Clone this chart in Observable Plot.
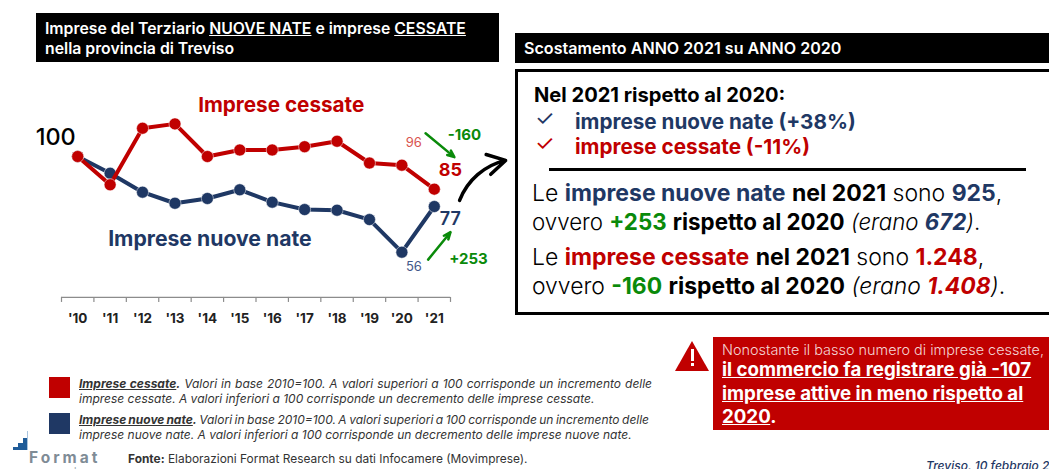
<!DOCTYPE html>
<html><head><meta charset="utf-8">
<script src="https://cdn.jsdelivr.net/npm/d3@7"></script>
<script src="https://cdn.jsdelivr.net/npm/@observablehq/plot@0.6"></script>
<style>
html,body{margin:0;padding:0;background:#fff}
#page{position:relative;width:1049px;height:469px;overflow:hidden;font-family:Inter,sans-serif;color:#000}
#page svg{position:absolute;left:0;top:0}
.t{position:absolute;white-space:nowrap}
.b{font-weight:700}.n{color:#1f3864}.r{color:#c00000}.g{color:#0a8a0a}
.box{position:absolute;box-sizing:border-box}
</style></head><body><div id="page"></div>
<script>
const years=[2010,2011,2012,2013,2014,2015,2016,2017,2018,2019,2020,2021];
const yearLabels=["'10","'11","'12","'13","'14","'15","'16","'17","'18","'19","'20","'21"];
const cessate=[100,87,113,115,100,103,103,104.5,107,97,96,85];
const nuove=[100,92.3,83.6,78.5,80.7,84.7,79,75.6,75.3,71,56,77];
const RED="#c00000",NAVY="#1f3864",GREEN="#0a8a0a";
const ticks=d3.range(2009.5,2022,1);
const axisValue=35.2;
const rows=s=>years.map((y,i)=>({y,v:s[i]}));
const chart=Plot.plot({
  width:1049,height:469,margin:0,
  style:{background:"transparent",fontFamily:"Inter,sans-serif",overflow:"visible"},
  x:{type:"linear",domain:[2009.5,2021.5],range:[61,450],axis:null},
  y:{type:"linear",domain:[56,100],range:[251.7,156],axis:null},
  marks:[
    Plot.ruleY([axisValue],{x1:2009.5,x2:2021.5,stroke:"#8c8c8c",strokeWidth:1.2}),
    Plot.ruleX(ticks,{y1:axisValue,y2:axisValue-2.3,stroke:"#8c8c8c",strokeWidth:1.2}),
    Plot.text(years,{x:d=>d,y:axisValue,dy:21,text:(d,i)=>yearLabels[i],fontSize:13.5,fontWeight:700,fill:"#222"}),
    Plot.line(rows(nuove),{x:"y",y:"v",stroke:NAVY,strokeWidth:4}),
    Plot.dot(rows(nuove),{x:"y",y:"v",r:6,fill:NAVY,stroke:"#fff",strokeOpacity:.5,strokeWidth:1}),
    Plot.line(rows(cessate),{x:"y",y:"v",stroke:RED,strokeWidth:4}),
    Plot.dot(rows(cessate),{x:"y",y:"v",r:6,fill:RED,stroke:"#fff",strokeOpacity:.5,strokeWidth:1}),
    Plot.text([100],{x:2010,y:d=>d,dx:-22,dy:-19,text:d=>String(d),fontSize:23.5,fontWeight:500,fill:"#000"}),
    Plot.text([96],{x:2020,y:d=>d,dx:12,dy:-22,text:d=>String(d),fontSize:13,fill:"#d9534f"}),
    Plot.text([56],{x:2020,y:d=>d,dx:12,dy:15,text:d=>String(d),fontSize:13,fill:"#44598a"}),
    Plot.text([85],{x:2021,y:d=>d,dx:16,dy:-19,text:d=>String(d),fontSize:18,fontWeight:700,fill:RED}),
    Plot.text([77],{x:2021,y:d=>d,dx:16,dy:13,text:d=>String(d),fontSize:18,fontWeight:600,fill:NAVY}),
    Plot.text(["Imprese cessate"],{x:2016,y:115,dx:9,dy:-19,text:d=>d,fontSize:20.7,fontWeight:700,fill:RED}),
    Plot.text(["Imprese nuove nate"],{x:2014,y:62,dx:2.5,text:d=>d,fontSize:21.2,fontWeight:700,fill:NAVY}),
    Plot.text(["-160"],{x:2021.5,y:110,dx:14,text:d=>d,fontSize:15,fontWeight:700,fill:GREEN}),
    Plot.text(["+253"],{x:2021.5,y:53,dx:18,text:d=>d,fontSize:15,fontWeight:700,fill:GREEN}),
    Plot.arrow([{x1:2020.73,y1:110.7,x2:2021.62,y2:99.7}],{x1:"x1",y1:"y1",x2:"x2",y2:"y2",stroke:GREEN,strokeWidth:2.5,headLength:4.5,headAngle:45}),
    Plot.arrow([{x1:2020.81,y1:52.6,x2:2021.5,y2:65.2}],{x1:"x1",y1:"y1",x2:"x2",y2:"y2",stroke:GREEN,strokeWidth:2.5,headLength:4.5,headAngle:45}),
    Plot.arrow([{x1:2021.78,y1:79.8,x2:2023.2,y2:98.2}],{x1:"x1",y1:"y1",x2:"x2",y2:"y2",bend:28,stroke:"#000",strokeWidth:3.5,headLength:16})
  ]
});
const page=document.getElementById("page");
const html=`
<div class="box" style="left:36px;top:13px;width:463px;height:49px;background:#000"></div>
<div class="t b" style="left:45px;top:19px;font-size:15.8px;color:#fff;line-height:20px;font-weight:600">Imprese del Terziario <u>NUOVE NATE</u> e imprese <u>CESSATE</u><br>nella provincia di Treviso</div>
<div class="box" style="left:515px;top:33px;width:534px;height:30px;background:#000"></div>
<div class="t" style="left:524px;top:38px;font-size:16.1px;color:#fff;font-weight:600">Scostamento ANNO 2021 su ANNO 2020</div>
<div class="box" style="left:515px;top:69px;width:540px;height:246px;border:3px solid #000"></div>
<div class="t b" style="left:534px;top:83px;font-size:20.1px">Nel 2021 rispetto al 2020:</div>
<div class="t n" style="left:535px;top:105px;font-size:22px">✓</div>
<div class="t b n" style="left:575px;top:109px;font-size:20.7px">imprese nuove nate (+38%)</div>
<div class="t r" style="left:535px;top:130px;font-size:22px">✓</div>
<div class="t b r" style="left:575px;top:134px;font-size:20.7px">imprese cessate (-11%)</div>
<div class="box" style="left:549px;top:168px;width:477px;height:3px;background:#000"></div>
<div class="t" style="left:532px;top:179px;font-size:23px;font-weight:300">Le <span class="b n">imprese nuove nate</span> <span class="b">nel 2021</span> sono <span class="b n">925</span>,</div>
<div class="t" style="left:532px;top:208px;font-size:22.3px;font-weight:300">ovvero <span class="b g">+253</span> <span class="b">rispetto al 2020</span> <i>(erano <span class="b n">672</span>)</i>.</div>
<div class="t" style="left:532px;top:243px;font-size:23px;font-weight:300">Le <span class="b r">imprese cessate</span> <span class="b">nel 2021</span> sono <span class="b r">1.248</span>,</div>
<div class="t" style="left:532px;top:272px;font-size:22.9px;font-weight:300">ovvero <span class="b g">-160</span> <span class="b">rispetto al 2020</span> <i>(erano <span class="b r">1.408</span>)</i>.</div>
<div class="box" style="left:49px;top:377px;width:21px;height:21px;background:#c00000"></div>
<div class="box" style="left:49px;top:413px;width:21px;height:21px;background:#1f3864"></div>
<div class="t" style="left:79px;top:376px;font-size:12px;font-style:italic;color:#333;line-height:15px"><span style="word-spacing:.6px"><b><u>Imprese cessate</u>.</b> Valori in base 2010=100. A valori superiori a 100 corrisponde un incremento delle</span><br>imprese cessate. A valori inferiori a 100 corrisponde un decremento delle imprese cessate.</div>
<div class="t" style="left:79px;top:412px;font-size:12px;font-style:italic;color:#333;line-height:15px"><span style="word-spacing:-.9px"><b><u>Imprese nuove nate</u>.</b> Valori in base 2010=100. A valori superiori a 100 corrisponde un incremento delle</span><br>imprese nuove nate. A valori inferiori a 100 corrisponde un decremento delle imprese nuove nate.</div>
<div class="t" style="left:128px;top:451px;font-size:11.9px;color:#333"><b>Fonte:</b> Elaborazioni Format Research su dati Infocamere (Movimprese).</div>
<div class="box" style="left:713px;top:337px;width:336px;height:93px;background:#c00000"></div>
<div class="t" style="left:722px;top:341px;font-size:14.45px;color:#f4d5d5;font-weight:300">Nonostante il basso numero di imprese cessate,</div>
<div class="t b" style="left:722px;top:358px;font-size:18.7px;color:#fff;line-height:23.5px"><u>il commercio fa registrare già -107</u><br><u>imprese attive in meno rispetto al</u><br><u>2020</u>.</div>
<div class="box" style="left:675px;top:341px;width:34px;height:30px;background:#c00000;clip-path:polygon(50% 0,100% 100%,0 100%)"></div>
<div class="box" style="left:690.5px;top:349px;width:3px;height:12px;background:#fff"></div>
<div class="box" style="left:690.5px;top:363px;width:3px;height:3px;background:#fff"></div>
<div class="box" style="left:27px;top:431px;width:1px;height:19px;background:#a9c4de"></div>
<div class="box" style="left:23px;top:438px;width:4px;height:12px;background:#1f5c99"></div>
<div class="box" style="left:18px;top:443px;width:5px;height:7px;background:#1f5c99"></div>
<div class="box" style="left:13px;top:447px;width:5px;height:3px;background:#1f5c99"></div>
<div class="t b" style="left:29px;top:450px;font-size:15.5px;color:#7f8c96;letter-spacing:3px;line-height:15px">Format</div>
<div class="t" style="left:28px;top:465px;font-size:10px;color:#9aa5ad;letter-spacing:1.5px;line-height:12px">research</div>
<div class="t" style="left:926px;top:458px;font-size:12px;font-style:italic;color:#1f3864;font-weight:500">Treviso, 10 febbraio 2022</div>`;
page.insertAdjacentHTML("beforeend",html);
page.prepend(chart);
</script></body></html>
